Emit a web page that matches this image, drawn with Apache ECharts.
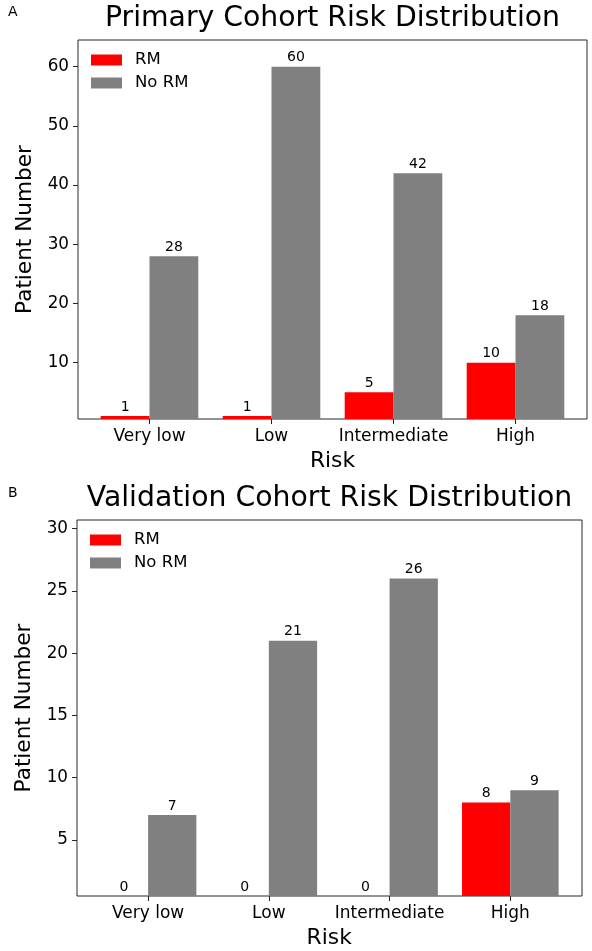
<!DOCTYPE html>
<html>
<head>
<meta charset="utf-8">
<script src="https://cdn.jsdelivr.net/npm/echarts@6/dist/echarts.min.js"></script>
<style>
html,body{margin:0;padding:0;background:#fff;}
#chart{width:592px;height:951px;}
</style>
</head>
<body>
<div id="chart"></div>
<script>
const categories = ['Very low', 'Low', 'Intermediate', 'High'];
const primaryRM = [1, 1, 5, 10];
const primaryNoRM = [28, 60, 42, 18];
const validationRM = [0, 0, 0, 8];
const validationNoRM = [7, 21, 26, 9];
const primaryTicks = [10, 20, 30, 40, 50, 60];
const validationTicks = [5, 10, 15, 20, 25, 30];
const seriesNames = ['RM', 'No RM'];
const panelTitles = ['Primary Cohort Risk Distribution', 'Validation Cohort Risk Distribution'];

const FONT = 'DejaVu Sans';
const RED = '#ff0000';
const GRAY = '#808080';
const DARK = '#262626';

const chart = echarts.init(document.getElementById('chart'), null, {renderer: 'canvas'});

const panels = [
  {frame: {left: 78, top: 40, width: 509, height: 379}, data: {left: 88.5, width: 488},
   yMin: 0.5, yMax: 64.5, ticks: primaryTicks, rm: primaryRM, norm: primaryNoRM,
   title: panelTitles[0], letter: 'A', letterTop: 5, titleTop: 5, legendTop: 51},
  {frame: {left: 77, top: 520, width: 505, height: 376}, data: {left: 87.7, width: 483},
   yMin: 0.5, yMax: 30.7, ticks: validationTicks, rm: validationRM, norm: validationNoRM,
   title: panelTitles[1], letter: 'B', letterTop: 486, titleTop: 485, legendTop: 531}
];

const grid = [], xAxis = [], yAxis = [], series = [], title = [], legend = [];
panels.forEach((p, i) => {
  const fi = i * 2, di = i * 2 + 1;
  grid.push({left: p.frame.left, top: p.frame.top, width: p.frame.width, height: p.frame.height,
    show: true, borderColor: DARK, borderWidth: 1, backgroundColor: 'transparent'});
  grid.push({left: p.data.left, top: p.frame.top, width: p.data.width, height: p.frame.height});
  xAxis.push({gridIndex: fi, type: 'value', min: 0, max: 1, show: false});
  yAxis.push({gridIndex: fi, type: 'value', min: p.yMin, max: p.yMax,
    axisLine: {show: false}, splitLine: {show: false},
    axisTick: {show: true, length: 5, lineStyle: {color: DARK}, customValues: p.ticks},
    axisLabel: {fontFamily: FONT, fontSize: 16.8, color: '#000', margin: 9, customValues: p.ticks},
    name: 'Patient Number', nameLocation: 'middle', nameGap: 42,
    nameTextStyle: {fontFamily: FONT, fontSize: 21.6, color: '#000'}});
  xAxis.push({gridIndex: di, type: 'category', data: categories,
    axisLine: {show: false},
    axisTick: {show: true, alignWithLabel: true, length: 5, lineStyle: {color: DARK}},
    axisLabel: {fontFamily: FONT, fontSize: 17, color: '#000', margin: 9, interval: 0},
    name: 'Risk', nameLocation: 'middle', nameGap: 31,
    nameTextStyle: {fontFamily: FONT, fontSize: 21.8, color: '#000'}});
  yAxis.push({gridIndex: di, type: 'value', min: p.yMin, max: p.yMax, startValue: p.yMin, show: false});
  const lbl = {show: true, position: 'top', distance: 2, fontFamily: FONT, fontSize: 14, color: '#000'};
  series.push({name: seriesNames[0], type: 'bar', xAxisIndex: di, yAxisIndex: di, data: p.rm,
    barWidth: '40%', barGap: '0%', itemStyle: {color: RED}, label: lbl, animation: false});
  series.push({name: seriesNames[1], type: 'bar', xAxisIndex: di, yAxisIndex: di, data: p.norm,
    barWidth: '40%', barGap: '0%', itemStyle: {color: GRAY}, label: lbl, animation: false});
  title.push({text: p.title, left: p.frame.left + p.frame.width / 2, textAlign: 'center', top: p.titleTop,
    padding: 0, textStyle: {fontFamily: FONT, fontSize: 28.3, fontWeight: 'normal', color: '#000'}});
  title.push({text: p.letter, left: 8, top: p.letterTop, padding: 0,
    textStyle: {fontFamily: FONT, fontSize: 14, fontWeight: 'normal', color: '#000'}});
  legend.push({data: seriesNames, orient: 'vertical', left: p.frame.left + 13, top: p.legendTop,
    padding: 0, itemWidth: 31, itemHeight: 11, itemGap: 5, icon: 'rect',
    selectedMode: false,
    textStyle: {fontFamily: FONT, fontSize: 16.5, color: '#000', lineHeight: 18, padding: [0, 0, 0, 8]}});
});

chart.setOption({animation: false, backgroundColor: '#fff', grid, xAxis, yAxis, series, title, legend});
</script>
</body>
</html>
